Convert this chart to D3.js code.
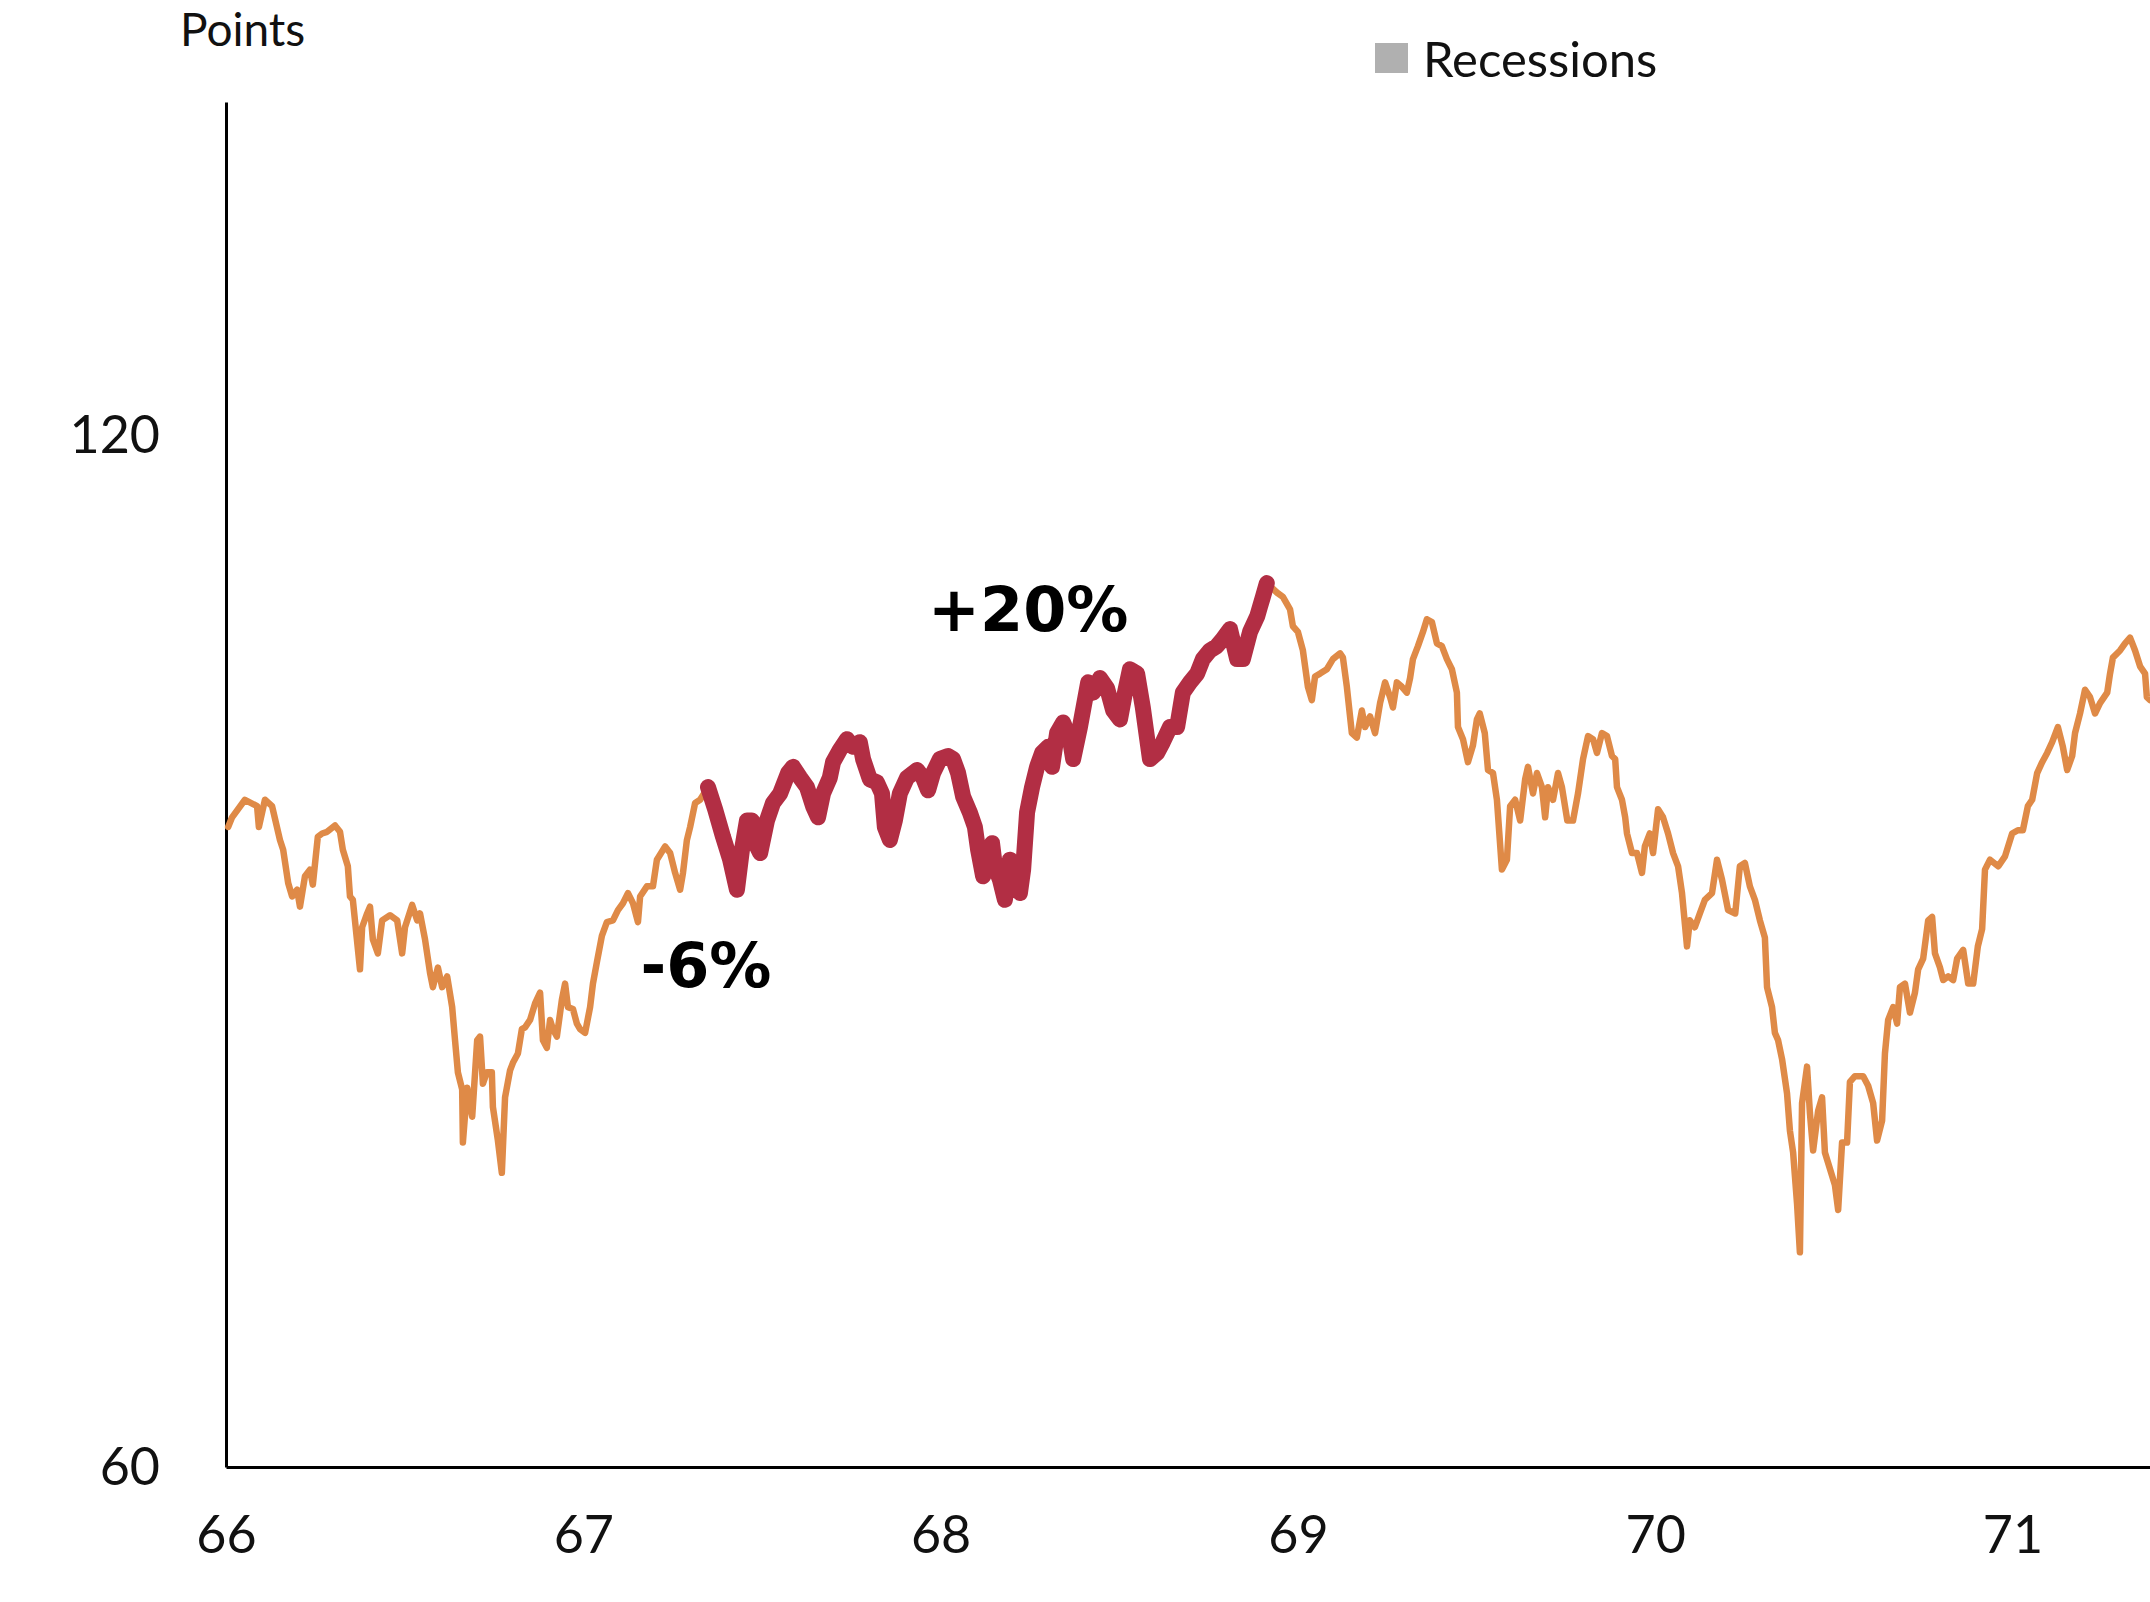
<!DOCTYPE html>
<html>
<head>
<meta charset="utf-8">
<script src="https://cdn.jsdelivr.net/npm/d3@7"></script>
<style>
  html, body { margin: 0; padding: 0; background: #ffffff; }
  svg { display: block; }
</style>
</head>
<body>
<svg id="chart" width="2150" height="1602"></svg>
<script>
// ---------- DATA (decimal year, index points) ----------
const s1966 = [[66.006,92.2],[66.017,92.8],[66.053,93.9],[66.087,93.5],[66.092,92.2],[66.109,93.9],[66.129,93.5],[66.151,91.4],[66.160,90.8],[66.174,88.8],[66.185,88.0],[66.199,88.4],[66.207,87.4],[66.221,89.2],[66.235,89.6],[66.243,88.7],[66.257,91.6],[66.269,91.8],[66.283,91.9],[66.305,92.3],[66.319,91.9],[66.327,90.8],[66.341,89.8],[66.347,88.0],[66.355,87.8],[66.375,83.8],[66.381,86.2],[66.395,87.0],[66.403,87.4],[66.411,85.5],[66.425,84.7],[66.437,86.6],[66.459,86.9],[66.479,86.6],[66.493,84.7],[66.501,86.2],[66.521,87.5],[66.535,86.6],[66.543,87.0],[66.557,85.5],[66.571,83.6],[66.579,82.8],[66.593,83.9],[66.605,82.8],[66.619,83.4],[66.633,81.7],[66.641,79.9],[66.649,78.2],[66.661,77.3],[66.663,74.6],[66.675,77.4],[66.689,75.9],[66.703,79.9],[66.711,80.1],[66.719,77.6],[66.730,78.2],[66.744,78.2],[66.747,76.4],[66.761,74.7],[66.772,73.1],[66.781,76.9],[66.795,78.3],[66.803,78.7],[66.817,79.2],[66.828,80.5],[66.837,80.6],[66.851,81.0],[66.865,81.9],[66.879,82.5],[66.887,79.9],[66.898,79.5],[66.907,81.0],[66.915,80.5],[66.926,80.1],[66.940,82.1],[66.949,83.0],[66.957,81.7],[66.971,81.6],[66.982,80.8],[66.991,80.5]];
const s1967 = [[67.005,80.3],[67.019,81.7],[67.027,83.0],[67.038,84.2],[67.052,85.7],[67.066,86.5],[67.083,86.6],[67.097,87.2],[67.111,87.6],[67.125,88.2],[67.139,87.6],[67.153,86.5],[67.159,88.0],[67.178,88.6],[67.195,88.6],[67.206,90.2],[67.229,91.0],[67.243,90.6],[67.257,89.4],[67.271,88.4],[67.279,89.4],[67.290,91.4],[67.299,92.2],[67.313,93.7],[67.327,93.9],[67.349,94.7],[67.369,93.3],[67.391,91.6],[67.411,90.2],[67.430,88.4],[67.444,90.8],[67.458,92.6],[67.472,92.6],[67.486,91.0],[67.495,90.6],[67.514,92.6],[67.531,93.7],[67.551,94.3],[67.573,95.6],[67.587,96.0],[67.607,95.3],[67.626,94.7],[67.643,93.5],[67.657,92.8],[67.671,94.3],[67.690,95.3],[67.699,96.3],[67.718,97.1],[67.738,97.8],[67.755,97.3],[67.774,97.6],[67.783,96.5],[67.802,95.2],[67.822,95.0],[67.836,94.3],[67.844,92.2],[67.858,91.4],[67.872,92.6],[67.886,94.3],[67.906,95.3],[67.934,95.8],[67.951,95.3],[67.965,94.5],[67.979,95.6],[67.998,96.5]];
const s1968 = [[68.021,96.7],[68.035,96.5],[68.049,95.6],[68.063,94.1],[68.082,93.1],[68.096,92.2],[68.105,90.8],[68.119,89.2],[68.133,89.8],[68.144,91.2],[68.152,89.8],[68.166,89.0],[68.180,87.8],[68.194,90.2],[68.208,89.0],[68.222,88.2],[68.231,89.6],[68.242,93.1],[68.256,94.7],[68.270,96.0],[68.284,96.9],[68.301,97.3],[68.312,96.0],[68.326,98.2],[68.343,98.9],[68.362,97.8],[68.371,96.5],[68.390,98.6],[68.413,101.6],[68.427,100.9],[68.446,101.9],[68.466,101.2],[68.483,99.7],[68.502,99.1],[68.516,100.9],[68.530,102.5],[68.550,102.2],[68.566,99.9],[68.586,96.5],[68.606,96.9],[68.622,97.6],[68.642,98.6],[68.662,98.6],[68.678,100.9],[68.698,101.6],[68.718,102.2],[68.734,103.2],[68.754,103.8],[68.773,104.1],[68.790,104.6],[68.810,105.3],[68.830,103.2],[68.846,103.2],[68.866,105.1],[68.886,106.2],[68.894,106.9],[68.902,107.6],[68.913,108.6],[68.942,107.9],[68.958,107.6],[68.978,106.7],[68.986,105.5]];
const s1969 = [[69.000,105.1],[69.014,103.8],[69.028,101.3],[69.039,100.4],[69.048,102.0],[69.062,102.2],[69.081,102.5],[69.098,103.2],[69.118,103.6],[69.126,103.3],[69.137,101.3],[69.151,98.2],[69.165,97.9],[69.179,99.7],[69.188,98.6],[69.202,99.3],[69.216,98.2],[69.230,100.2],[69.244,101.6],[69.258,100.6],[69.266,99.9],[69.277,101.6],[69.291,101.3],[69.305,100.9],[69.314,101.9],[69.322,103.2],[69.336,104.1],[69.350,105.1],[69.361,106.0],[69.375,105.8],[69.389,104.3],[69.403,104.1],[69.417,103.2],[69.431,102.5],[69.445,100.9],[69.448,98.6],[69.462,97.8],[69.476,96.3],[69.490,97.4],[69.501,99.1],[69.509,99.5],[69.523,98.2],[69.532,95.8],[69.546,95.6],[69.557,93.9],[69.571,89.6],[69.585,90.2],[69.594,93.5],[69.608,93.9],[69.622,92.6],[69.636,95.2],[69.644,96.0],[69.658,94.3],[69.669,95.6],[69.683,94.7],[69.692,92.8],[69.700,94.7],[69.714,93.9],[69.728,95.6],[69.739,94.7],[69.754,92.6],[69.770,92.6],[69.784,94.3],[69.798,96.5],[69.812,98.0],[69.826,97.8],[69.837,96.9],[69.851,98.2],[69.865,98.0],[69.879,96.7],[69.888,96.5],[69.893,94.7],[69.907,93.9],[69.916,92.8],[69.921,91.8],[69.935,90.6],[69.949,90.6],[69.963,89.4],[69.971,91.0],[69.985,91.8],[69.994,90.6]];
const s1970 = [[70.008,93.3],[70.022,92.8],[70.036,91.8],[70.050,90.6],[70.064,89.8],[70.075,88.2],[70.089,85.1],[70.097,86.6],[70.111,86.2],[70.125,87.0],[70.139,87.8],[70.159,88.2],[70.173,90.2],[70.187,89.0],[70.204,87.2],[70.224,87.0],[70.237,89.8],[70.251,90.0],[70.265,88.6],[70.279,87.8],[70.293,86.6],[70.307,85.6],[70.313,82.8],[70.327,81.7],[70.335,80.3],[70.344,79.9],[70.355,78.9],[70.369,77.1],[70.377,75.2],[70.386,74.1],[70.397,71.6],[70.405,69.3],[70.411,76.6],[70.425,78.5],[70.433,76.1],[70.442,74.2],[70.456,76.2],[70.467,76.9],[70.475,74.1],[70.489,73.3],[70.503,72.5],[70.512,71.3],[70.523,74.6],[70.537,74.6],[70.545,77.7],[70.559,78.0],[70.582,78.0],[70.596,77.5],[70.610,76.6],[70.621,74.7],[70.635,75.7],[70.643,79.2],[70.652,81.0],[70.666,81.7],[70.677,80.8],[70.685,82.8],[70.699,83.0],[70.713,81.4],[70.727,82.5],[70.736,83.8],[70.750,84.4],[70.764,86.6],[70.775,86.8],[70.783,84.7],[70.797,83.9],[70.806,83.2],[70.820,83.4],[70.834,83.2],[70.845,84.4],[70.862,84.9],[70.876,83.0],[70.890,83.0],[70.903,85.1],[70.915,86.1],[70.923,89.6],[70.937,90.2],[70.960,89.8],[70.979,90.4],[70.999,91.8]];
const s1971 = [[71.015,92.0],[71.029,92.0],[71.043,93.5],[71.055,93.9],[71.069,95.6],[71.083,96.3],[71.097,96.9],[71.111,97.6],[71.127,98.6],[71.141,97.3],[71.153,95.8],[71.167,96.7],[71.175,98.2],[71.189,99.5],[71.203,101.1],[71.217,100.6],[71.231,99.5],[71.245,100.2],[71.265,100.9],[71.273,102.2],[71.281,103.3],[71.301,103.8],[71.315,104.3],[71.329,104.7],[71.343,103.8],[71.357,102.7],[71.371,102.2],[71.376,100.6],[71.385,100.4]];

const highlightRange = [67.349, 68.913];
const xTickValues = [66, 67, 68, 69, 70, 71];
const xTickLabels = ["66", "67", "68", "69", "70", "71"];
const yTickValues = [60, 120];
const yTickLabels = ["60", "120"];
const annotationText = ["-6%", "+20%"];
const annotationYear = [67.16, 67.965];
const annotationValue = [82.8, 105.2];
const legendLabel = "Recessions";
const yAxisTitle = "Points";

// ---------- CHART ----------
const series = [].concat(s1966, s1967, s1968, s1969, s1970, s1971)
  .map(d => ({ t: d[0], v: d[1] }));
const highlighted = series.filter(d => d.t >= highlightRange[0] && d.t <= highlightRange[1]);

const svg = d3.select("#chart");
const x = d3.scaleLinear().domain([66, 72]).range([226, 226 + 6 * 357.3]);
const y = d3.scaleLog().domain([60, 150]).range([1467, 102]);

const axisFont = "Lato, 'Noto Sans', sans-serif";

// y axis
const yAxis = svg.append("g").attr("transform", "translate(226,0)")
  .call(d3.axisLeft(y).tickValues(yTickValues)
    .tickFormat((d, i) => yTickLabels[i]).tickSize(0).tickSizeOuter(0).tickPadding(66));
yAxis.select(".domain").attr("stroke", "#000").attr("stroke-width", 3);
yAxis.selectAll("text").attr("font-family", axisFont).attr("font-size", 52)
  .attr("fill", "#111").attr("dy", "0.34em");

// x axis
const xAxis = svg.append("g").attr("transform", "translate(0,1467)")
  .call(d3.axisBottom(x).tickValues(xTickValues)
    .tickFormat((d, i) => xTickLabels[i]).tickSize(0).tickSizeOuter(0));
xAxis.select(".domain").attr("stroke", "#000").attr("stroke-width", 3);
xAxis.selectAll("text").attr("font-family", axisFont).attr("font-size", 52)
  .attr("fill", "#111").attr("dy", null).attr("y", 86);

// lines
const line = d3.line().x(d => x(d.t)).y(d => y(d.v)).curve(d3.curveLinear);
svg.append("path").datum(series).attr("d", line)
  .attr("fill", "none").attr("stroke", "#DF8A47").attr("stroke-width", 6.5)
  .attr("stroke-linejoin", "round").attr("stroke-linecap", "round");
svg.append("path").datum(highlighted).attr("d", line)
  .attr("fill", "none").attr("stroke", "#B22E44").attr("stroke-width", 16)
  .attr("stroke-linejoin", "round").attr("stroke-linecap", "round");

// annotations
svg.selectAll("text.ann").data(annotationText).enter().append("text")
  .attr("class", "ann")
  .attr("x", (d, i) => x(annotationYear[i]))
  .attr("y", (d, i) => y(annotationValue[i]))
  .attr("font-family", "'DejaVu Sans', sans-serif")
  .attr("font-weight", "bold").attr("font-size", 62).attr("fill", "#000")
  .text(d => d);

// axis title
svg.append("text").attr("x", 180).attr("y", 46)
  .attr("font-family", axisFont).attr("font-size", 46).attr("fill", "#111")
  .text(yAxisTitle);

// legend
svg.append("rect").attr("x", 1375).attr("y", 43).attr("width", 33).attr("height", 30)
  .attr("fill", "#b0b0b0");
svg.append("text").attr("x", 1423).attr("y", 77)
  .attr("font-family", axisFont).attr("font-size", 49).attr("fill", "#111")
  .text(legendLabel);
</script>
</body>
</html>
